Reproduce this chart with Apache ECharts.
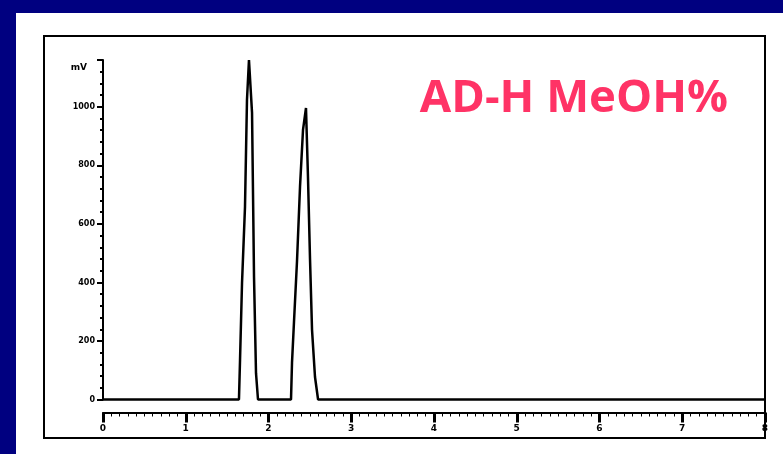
<!DOCTYPE html>
<html>
<head>
<meta charset="utf-8">
<script src="https://cdn.jsdelivr.net/npm/echarts@6/dist/echarts.min.js"></script>
<style>
html,body{margin:0;padding:0;background:#000080;}
#chart{width:783px;height:454px;}
</style>
</head>
<body>
<div id="chart"></div>
<script>
// Chromatogram signal: retention time (min) and detector response (mV)
const times = [0, 1.643, 1.656, 1.680, 1.716, 1.740, 1.764, 1.801, 1.825, 1.849, 1.873,
               2.272, 2.284, 2.308, 2.344, 2.381, 2.417, 2.453, 2.477, 2.502, 2.526, 2.562, 2.599, 8];
const signal = [0, 0, 135, 398, 658, 1024, 1160, 980, 419, 90, 0,
                0, 125, 265, 470, 728, 921, 996, 761, 477, 238, 77, 0, 0];
const yTicks = [0, 200, 400, 600, 800, 1000];
const xTicks = [0, 1, 2, 3, 4, 5, 6, 7, 8];
const titleText = 'AD-H MeOH%';
const yUnit = 'mV';

const chart = echarts.init(document.getElementById('chart'), null, {renderer: 'canvas'});
const option = {
  animation: false,
  backgroundColor: '#000080',
  graphic: [
    {type: 'rect', z: -10, shape: {x: 16, y: 13, width: 767, height: 441}, style: {fill: '#ffffff'}},
    {type: 'rect', z: -5, shape: {x: 44, y: 36, width: 721, height: 402}, style: {fill: 'none', stroke: '#000', lineWidth: 2}}
  ],
  title: {
    text: titleText,
    right: 50, top: 71,
    textStyle: {color: '#FF3366', fontFamily: 'Open Sans', fontWeight: 'bold', fontSize: 45.5}
  },
  grid: {left: 103, right: 18, top: 60, bottom: 54.5},
  xAxis: {
    type: 'value', min: xTicks[0], max: xTicks[xTicks.length - 1], interval: 1,
    offset: 13,
    axisLine: {show: true, onZero: false, lineStyle: {color: '#000', width: 2}},
    axisTick: {show: true, length: 10, lineStyle: {color: '#000', width: 3}},
    minorTick: {show: true, splitNumber: 10, length: 4, lineStyle: {color: '#000', width: 1}},
    splitLine: {show: false},
    axisLabel: {color: '#000', fontSize: 9, fontWeight: 'bold', fontFamily: 'DejaVu Sans', margin: 12,
      formatter: v => xTicks.includes(v) ? String(v) : ''}
  },
  yAxis: {
    type: 'value', min: 0, max: 1160, interval: 200,
    name: yUnit, nameLocation: 'end', nameGap: -12,
    nameTextStyle: {color: '#000', fontSize: 9, fontWeight: 'bold', fontFamily: 'DejaVu Sans', align: 'right', padding: [0, 16, 0, 0]},
    axisLine: {show: true, lineStyle: {color: '#000', width: 2}},
    axisTick: {show: true, length: 6, lineStyle: {color: '#000', width: 2}},
    minorTick: {show: true, splitNumber: 5, length: 3, lineStyle: {color: '#000', width: 2}},
    splitLine: {show: false},
    axisLabel: {color: '#000', fontSize: 8, fontWeight: 'bold', fontFamily: 'DejaVu Sans', margin: 8,
      formatter: v => yTicks.includes(v) ? String(v) : ''}
  },
  series: [{
    type: 'line',
    data: times.map((t, i) => [t, signal[i]]),
    showSymbol: false,
    lineStyle: {color: '#000', width: 2.5},
    clip: false
  }]
};
chart.setOption(option);
</script>
</body>
</html>
